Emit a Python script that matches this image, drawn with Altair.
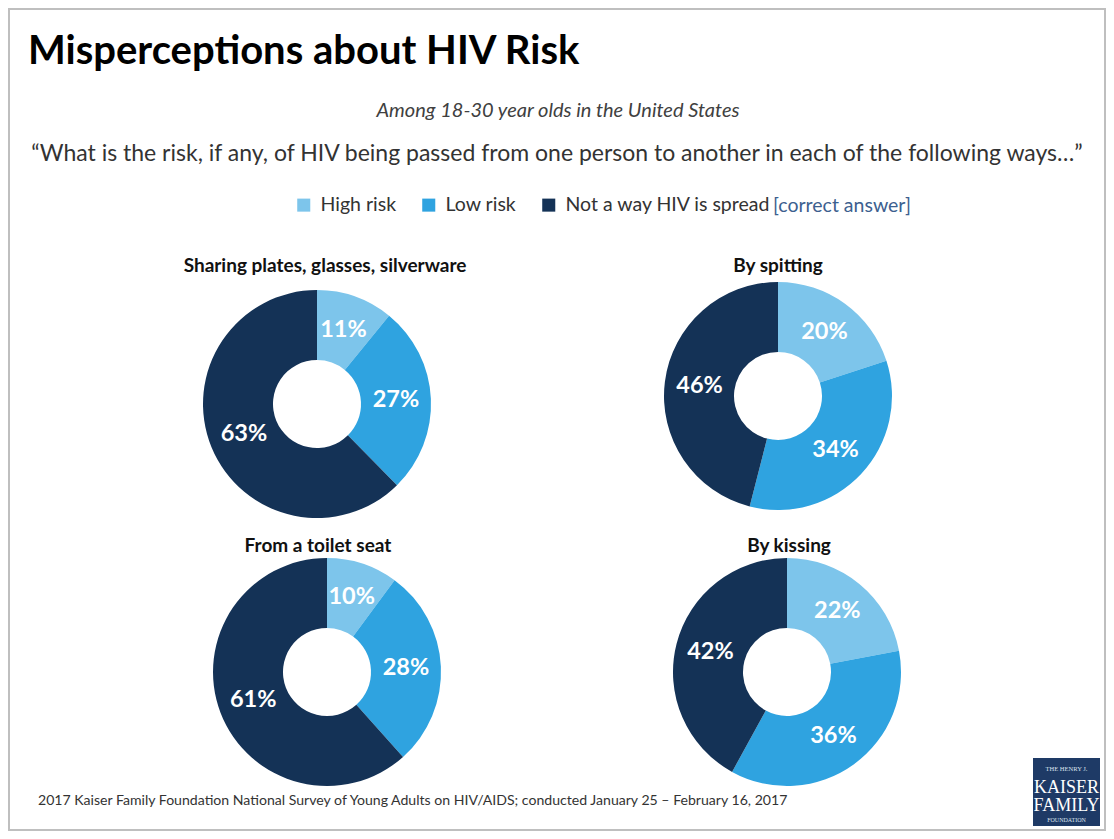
import altair as alt
import pandas as pd

# ---- data -----------------------------------------------------------------
QUESTIONS = ["Sharing plates, glasses, silverware", "By spitting",
             "From a toilet seat", "By kissing"]
CATEGORIES = ["High risk", "Low risk", "Not a way HIV is spread"]
HIGH_RISK = [11, 20, 10, 22]
LOW_RISK = [27, 34, 28, 36]
NOT_SPREAD = [63, 46, 61, 42]
COLORS = ["#7DC5EB", "#2FA3E0", "#143256"]

TITLE = "Misperceptions about HIV Risk"
SUBTITLE = "Among 18-30 year olds in the United States"
QUESTION = ("\u201cWhat is the risk, if any, of HIV being passed from one person "
            "to another in each of the following ways\u2026\u201d")
CORRECT = "[correct answer]"
SOURCE = ("2017 Kaiser Family Foundation National Survey of Young Adults on HIV/AIDS; "
          "conducted January 25 \u2013 February 16, 2017")
LOGO_LINES = ["THE HENRY J.", "KAISER", "FAMILY", "FOUNDATION"]

rows = []
for qi, q in enumerate(QUESTIONS):
    for ci, (cat, vals) in enumerate(zip(CATEGORIES, [HIGH_RISK, LOW_RISK, NOT_SPREAD])):
        rows.append({"question": q, "category": cat, "value": vals[qi],
                     "order": ci, "label": f"{vals[qi]}%"})
df = pd.DataFrame(rows)

# ---- layout (pixel positions in chart space) --------------------------------
W, H = 1098, 823
FONT = "Lato"
CENTERS = {
    QUESTIONS[0]: (309, 396, 317, 264),
    QUESTIONS[1]: (770, 388, 770, 264),
    QUESTIONS[2]: (319, 664, 310, 544),
    QUESTIONS[3]: (779, 664, 781, 544),
}
R_OUT, R_IN, R_LBL = 114, 44, 79

color = alt.Color(
    "category:N",
    scale=alt.Scale(domain=CATEGORIES, range=COLORS),
    sort=CATEGORIES,
    legend=alt.Legend(
        title=None, orient="none", legendX=286, legendY=187,
        direction="horizontal", symbolType="square", symbolSize=170,
        symbolStrokeWidth=0, labelFont=FONT, labelFontSize=19.5,
        labelColor="#333333", columnPadding=22, labelOffset=7, labelLimit=0,
    ),
)

donuts = []
for q in QUESTIONS:
    cx, cy, tx, ty = CENTERS[q]
    base = alt.Chart(df).transform_filter(alt.datum.question == q)
    arc = base.mark_arc(outerRadius=R_OUT, innerRadius=R_IN).encode(
        theta=alt.Theta("value:Q", stack=True),
        color=color,
        order=alt.Order("order:Q"),
        x=alt.value(cx), y=alt.value(cy),
    )
    lbl = base.mark_text(radius=R_LBL, font=FONT, fontSize=23.5, fontWeight="bold",
                         color="white").encode(
        theta=alt.Theta("value:Q", stack=True),
        detail="category:N",
        order=alt.Order("order:Q"),
        text="label:N",
        x=alt.value(cx), y=alt.value(cy),
    )
    ttl = alt.Chart(pd.DataFrame({"t": [q]})).mark_text(
        font=FONT, fontSize=19, fontWeight="bold", color="#111111",
        align="center", baseline="alphabetic",
    ).encode(text="t:N", x=alt.value(tx), y=alt.value(ty))
    donuts.append(alt.layer(arc, lbl, ttl))


def txt(s, x, y, **kw):
    return alt.Chart(pd.DataFrame({"t": [s]})).mark_text(
        baseline="alphabetic", **kw).encode(text="t:N", x=alt.value(x), y=alt.value(y))


border = alt.Chart(pd.DataFrame({"a": [0]})).mark_rect(
    fill="white", stroke="#BFBFBF", strokeWidth=2).encode(
    x=alt.value(1), x2=alt.value(W - 1), y=alt.value(1), y2=alt.value(H - 1))

texts = [
    txt(TITLE, 20, 56, font=FONT, fontSize=40, fontWeight="bold", color="#000000", align="left"),
    txt(SUBTITLE, 550, 109, font=FONT, fontSize=20, fontStyle="italic", color="#404040", align="center"),
    txt(QUESTION, 549, 153, font=FONT, fontSize=23, color="#333333", align="center"),
    txt(CORRECT, 765, 204, font=FONT, fontSize=19.5, color="#3D5F8F", align="left"),
    txt(SOURCE, 30, 797, font=FONT, fontSize=14.1, color="#333333", align="left"),
]

logo_box = alt.Chart(pd.DataFrame({"a": [0]})).mark_rect(fill="#1E3A66").encode(
    x=alt.value(1025), x2=alt.value(1092), y=alt.value(750), y2=alt.value(818))
logo_texts = [
    txt(LOGO_LINES[0], 1058.5, 763, font="Liberation Serif", fontSize=6.5, color="#DCE3EE", align="center"),
    txt(LOGO_LINES[1], 1058.5, 785, font="Liberation Serif", fontSize=18, color="#FFFFFF", align="center"),
    txt(LOGO_LINES[2], 1058.5, 803, font="Liberation Serif", fontSize=18, color="#FFFFFF", align="center"),
    txt(LOGO_LINES[3], 1058.5, 814, font="Liberation Serif", fontSize=6, color="#DCE3EE", align="center"),
]

chart = alt.layer(
    border, *texts, logo_box, *logo_texts, *donuts
).resolve_scale(theta="independent").properties(
    width=W, height=H, padding=0,
    autosize=alt.AutoSizeParams(type="fit", contains="padding"),
).configure_view(stroke=None)

chart.save("out.html", embed_options={"renderer": "svg", "actions": False})
